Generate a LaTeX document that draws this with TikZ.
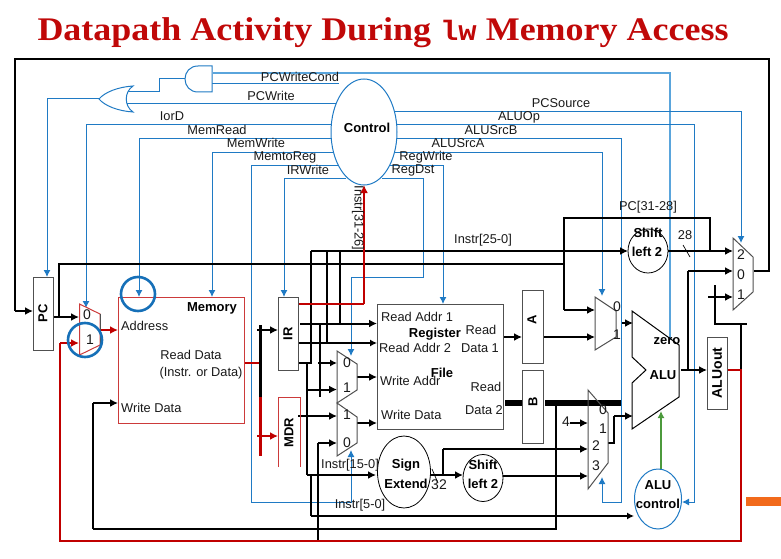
\documentclass[tikz,border=0pt]{standalone}
\usepackage{fontspec}
\setmainfont{Liberation Sans}
\newfontfamily\titleserif{Liberation Serif}
\newfontfamily\titlemono{Liberation Mono}
\usetikzlibrary{arrows.meta,shapes.geometric}
\definecolor{ctlblue}{HTML}{1F7AC4}
\definecolor{paleblue}{HTML}{5AA5DC}
\definecolor{ringblue}{HTML}{1670B8}
\definecolor{wirered}{HTML}{C00000}
\definecolor{boxred}{HTML}{CC3A3A}
\definecolor{titlered}{HTML}{C00808}
\definecolor{alugreen}{HTML}{4C9A3C}
\definecolor{flagorange}{HTML}{F26A1B}
\definecolor{boxgray}{HTML}{505050}
\tikzset{
  lab/.style={font=\fontsize{12.8}{14}\selectfont,inner sep=0pt,text=black!90},
  blab/.style={font=\fontsize{13}{14}\selectfont\bfseries,inner sep=0pt},
  numlab/.style={font=\fontsize{14}{16}\selectfont,inner sep=0pt,text=black!90},
  ctl/.style={draw=ctlblue,line width=1pt},
  ctlto/.style={ctl,-{Latex[length=7pt,width=7pt]}},
  pale/.style={draw=paleblue,line width=1.1pt},
  bus/.style={draw=black,line width=2pt},
  busto/.style={bus,-{Latex[length=8pt,width=8pt]}},
  thinbus/.style={draw=black,line width=1.3pt},
  thinto/.style={thinbus,-{Latex[length=7pt,width=7pt]}},
  hot/.style={draw=wirered,line width=2pt},
  hotto/.style={hot,-{Latex[length=8pt,width=8pt]}},
  unit/.style={draw=boxgray,line width=1pt,fill=white,inner sep=0pt},
  oval/.style={draw=black,line width=.8pt,ellipse,inner sep=0pt},
  ring/.style={draw=ringblue,line width=2.6pt},
  muxedge/.style={draw=boxgray,line width=1pt},
  rot/.style={rotate=90,font=\fontsize{13}{14}\selectfont\bfseries,inner sep=0pt},
}
\begin{document}
\begin{tikzpicture}[x=1pt,y=-1pt]
\useasboundingbox (0,0) rectangle (781,559);

% Port and bend points of the wires
\foreach \n/\x/\y in {
 loopA/754/271,loopB/769/271,loopC/769/59,loopD/15/59,loopE/15/311,pcin/33/311,
 pcout/53/317,m1in0/79/317,tapA/59/317,tapB/59/264,tapC/564/264,tapD/564/310,mAin0/595/310,
 tapE/564/218,tapF/710/218,tapG/710/251,
 irj/311/251,irk/327/251,irl/340/251,shin/628/251,shout/668/251,mTin2/733/251,
 tick1/683/245,tick2/690/257,
 m1out/100/330,memaddr/118/330,m1in1/79/343,
 redA/60/343,redB/60/541,redC/741/541,redD/741/370,aluoutR/727/370,
 blkA/741/324,blkB/715/324,blkC/747/324,blkD/715/285,plusL/708/297,mTin1/733/297,
 wdin/118/403,wdA/93/403,wdB/93/529,wdC/556/529,wdD/556/403,
 rdout/244/363,rdbus/260/363,busT/260/325,busM/260/397,busB/260/456,
 irinL/257/330,irin/278/330,mdrL/257/436,mdrin/278/436,
 irred/298/304,irredB/364/304,ctlbot/364/185,
 irbot/298/363,irbotA/311/363,v1/307/363,v2/307/475,seIn/376/475,
 v3/311/475,v4/311/516,acin/634/516,
 irr1/300/323.5,ra1/377/323.5,irr2/298/343,ra2/377/343,k343/327/343,l323/340/323.5,
 d1/320/323.5,d2/320/397,
 wa0L/318/363,wa0/337/363,wa1L/307/389.5,wa1/337/389.5,
 wd1L/298/416,wd1/337/416,wd0/337/443,wd0A/318/443,wd0B/318/541,
 waOut/357/377,waIn/377/377,wdOut/357/423,wdIn/377/423,
 r1/503/337,ain/522/337,aout/543/337,mAin1/595/337,
 bL/505/403,bR/522/403,bO/545/403,bE/621/403,
 fourL/570/423,m3in1/588/423,
 m3out/608/443,m3A/614/443,m3B/614/416,aluB/633/416,
 mAout/622/323,aluA/633/323,
 aluout/681/370,aluoutL/707/370,fbA/688/370,fbB/688/271,mTin0/733/271,
 sOut/430/475,s2in/463/475,sUp/443/475,sUpB/443/449,m3in2/588/449,
 s2out/503/476,m3in3/588/476,tick3/432/469,tick4/438/483,
 actop/661/469,aluctl/661/411,
 c1A/339/84,c1B/212/84,c2A/213/73,c2B/670/73,c2C/670/340,
 andout/185/79,a1/159/79,a2/159/92,a3/127/92,
 orin/125/104,pcw/336/104,orout/99/99,o1/47/99,pctop/47/277,
 iod/331/125,iodA/86/125,m1sel/86/308,
 mr/331/138,mrA/139/138,memrd/139/297,
 mw/333/152,mwA/212/152,memwr/212/297,
 m2r/338/165,m2rA/251/165,m2rB/251/502,m2rC/351/502,wd0sel/351/450,
 irw/346/178,irwA/284/178,irtop/284/297,
 pcs/395/112,pcsA/741/112,mTtop/741/243,
 aop/397/125,aopA/694/125,aopB/694/502,acR/682/502,
 asb/397/138,asbA/621/138,asbB/621/502,asbC/602/502,m3sel/602/477,
 asa/395/152,asaA/602/152,mAsel/602/296,
 rw/390/165,rwA/443/165,rftop/443/304,
 rd/382/178,rdA/423/178,rdB/423/277,rdC/351/277,wasel/351/356%
}{\coordinate (\n) at (\x,\y);}

% Title
\node[font=\fontsize{33}{36}\selectfont\bfseries\titleserif,text=titlered,inner sep=0pt,xscale=1.09] (title) at (383,33)
  {Datapath Activity During {\titlemono\fontsize{28}{32}\selectfont lw} Memory Access};

% Control lines
\draw[ctl] (c1A) -- (c1B);
\draw[pale] (c2A) -- (c2B) -- (c2C);
\draw[ctl] (andout) -- (a1) -- (a2) -- (a3);
\draw[ctl] (orin) -- (pcw);
\draw[ctlto] (orout) -- (o1) -- (pctop);
\draw[ctlto] (iod) -- (iodA) -- (m1sel);
\draw[ctlto] (mr) -- (mrA) -- (memrd);
\draw[ctlto] (mw) -- (mwA) -- (memwr);
\draw[ctlto] (m2r) -- (m2rA) -- (m2rB) -- (m2rC) -- (wd0sel);
\draw[ctlto] (irw) -- (irwA) -- (irtop);
\draw[ctlto] (pcs) -- (pcsA) -- (mTtop);
\draw[ctlto] (aop) -- (aopA) -- (aopB) -- (acR);
\draw[ctlto] (asb) -- (asbA) -- (asbB) -- (asbC) -- (m3sel);
\draw[ctlto] (asa) -- (asaA) -- (mAsel);
\draw[ctlto] (rw) -- (rwA) -- (rftop);
\draw[ctlto] (rd) -- (rdA) -- (rdB) -- (rdC) -- (wasel);

% AND and OR gates
\draw[ctl,fill=white] (212,66) -- (198,66) .. controls (190,66) and (185,72) .. (185,79)
  .. controls (185,86) and (190,92) .. (198,92) -- (212,92) -- cycle;
\draw[ctl,fill=white] (133,86) .. controls (118,87) and (105,92) .. (99,99)
  .. controls (105,106) and (118,111) .. (133,112) .. controls (124,106) and (124,92) .. (133,86) -- cycle;

% Instruction register wiring
\draw[bus] (loopA) -- (loopB) -- (loopC) -- (loopD) -- (loopE);
\draw[busto] (loopE) -- (pcin);
\draw[busto] (pcout) -- (m1in0);
\draw[bus] (tapA) -- (tapB) -- (tapC) -- (tapD);
\draw[busto] (tapD) -- (mAin0);
\draw[bus] (tapC) -- (tapE) -- (tapF) -- (tapG);
\draw[busto] (irj) -- (shin);
\draw[busto] (shout) -- (mTin2);
\draw[thinbus,line width=.7pt] (tick1) -- (tick2);
\draw[bus] (irj) -- (irbotA) -- (irbot);
\draw[bus] (irk) -- (k343);
\draw[bus] (irl) -- (l323);
\draw[bus] (v1) -- (v2);
\draw[busto] (v2) -- (seIn);
\draw[thinbus] (v3) -- (v4);
\draw[thinto] (v4) -- (acin);
\draw[busto] (irr1) -- (ra1);
\draw[thinto] (irr2) -- (ra2);
\draw[bus] (d1) -- (d2);
\draw[thinto] (wa0L) -- (wa0);
\draw[busto] (wa1L) -- (wa1);
\draw[busto] (wd1L) -- (wd1);
\draw[bus] (wd0B) -- (wd0A);
\draw[busto] (wd0A) -- (wd0);
\draw[busto] (waOut) -- (waIn);
\draw[busto] (wdOut) -- (wdIn);
\draw[busto] (r1) -- (ain);
\draw[busto] (aout) -- (mAin1);
\draw[bus] (wdB) -- (wdA);
\draw[busto] (wdA) -- (wdin);
\draw[bus] (wdB) -- (wdC) -- (wdD);
\draw[line width=6pt,draw=black] (bL) -- (bR);
\draw[line width=6pt,draw=black] (bO) -- (bE);
\draw[busto] (fourL) -- (m3in1);
\draw[bus] (m3out) -- (m3A) -- (m3B);
\draw[busto] (m3B) -- (aluB);
\draw[busto] (mAout) -- (aluA);
\draw[busto] (aluout) -- (aluoutL);
\draw[bus] (fbA) -- (fbB);
\draw[busto] (fbB) -- (mTin0);
\draw[bus] (redD) -- (blkA) -- (blkB) -- (blkD);
\draw[bus] (blkA) -- (blkC);
\draw[busto] (plusL) -- (mTin1);
\draw[busto] (sOut) -- (s2in);
\draw[bus] (sUp) -- (sUpB);
\draw[busto] (sUpB) -- (m3in2);
\draw[busto] (s2out) -- (m3in3);
\draw[thinbus,line width=.7pt] (tick3) -- (tick4);
\draw[alugreen,line width=1.3pt,-{Latex[length=7pt,width=7pt]}] (actop) -- (aluctl);

% Active memory-access path
\draw[hot] (rdout) -- (rdbus);
\draw[bus,line width=3pt] (busT) -- (busM);
\draw[hot,line width=3pt] (busM) -- (busB);
\draw[busto] (irinL) -- (irin);
\draw[hotto] (mdrL) -- (mdrin);
\draw[hot] (irred) -- (irredB);
\draw[hotto] (irredB) -- (ctlbot);
\draw[hotto] (m1out) -- (memaddr);
\draw[hot] (aluoutR) -- (redD) -- (redC) -- (redB) -- (redA);
\draw[hotto] (redA) -- (m1in1);

% Registers and functional units
\node[unit,minimum width=20pt,minimum height=73pt] (pc) at (43,313.5) {};
\node[rot] (pclab) at (pc) {PC};
\node[draw=boxred,line width=1pt,minimum width=126pt,minimum height=126pt,inner sep=0pt] (mem) at (181,360) {};
\node[unit,minimum width=20pt,minimum height=73pt] (ir) at (288,333.5) {};
\node[rot] (irlab) at (ir) {IR};
\draw[draw=boxred,line width=1pt] (278,467) -- (278,397) -- (300,397) -- (300,467);
\node[rot] (mdrlab) at (289,433) {MDR};
\node[unit,fill=none,minimum width=126pt,minimum height=125pt] (rf) at (440,366.5) {};
\node[unit,minimum width=21pt,minimum height=73pt] (rega) at (532.5,326.5) {};
\node[rot] (alab) at (532,320) {A};
\node[unit,fill=none,minimum width=21pt,minimum height=73pt] (regb) at (532.5,406.5) {};
\node[rot] (blab) at (533,402) {B};
\node[unit,minimum width=20pt,minimum height=72pt] (aluoutbox) at (717,373) {};
\node[rot,font=\fontsize{14}{15}\selectfont\bfseries] (aluoutlab) at (aluoutbox) {ALUout};

% Multiplexers
\draw[draw=boxred,line width=1pt,fill=white] (79.5,304) -- (100,314) -- (100,345) -- (79.5,355) -- cycle;
\draw[muxedge] (100,314) -- (100,345);
\draw[muxedge] (337,351) -- (357,364) -- (357,390) -- (337,403) -- cycle;
\draw[muxedge] (337,403) -- (357,417) -- (357,443) -- (337,456) -- cycle;
\draw[muxedge] (595,297) -- (616,311) -- (616,337) -- (595,350) -- cycle;
\draw[muxedge] (588,390) -- (608,413) -- (608,463) -- (588,489) -- cycle;
\draw[muxedge] (733,238) -- (753,257) -- (753,292) -- (733,310) -- cycle;
\draw[line width=1pt,draw=black] (632,311) -- (679,345) -- (679,397) -- (632,429) -- (632,383) -- (646,370) -- (632,357) -- cycle;

% Ovals
\node[draw=ctlblue,line width=1pt,ellipse,minimum width=66pt,minimum height=106pt,inner sep=0pt] (control) at (364,132) {};
\node[oval,minimum width=40pt,minimum height=44pt] (shiftj) at (648,251) {};
\node[oval,minimum width=53pt,minimum height=72pt] (signext) at (404,472) {};
\node[oval,minimum width=40pt,minimum height=47pt] (shiftb) at (483,478) {};
\node[draw=ctlblue,line width=1pt,ellipse,minimum width=47pt,minimum height=60pt,inner sep=0pt] (aluctlov) at (658,499) {};

% Highlight rings and the corner bar
\node[ring,circle,minimum size=34pt,inner sep=0pt] (ringa) at (138,294) {};
\node[ring,circle,minimum size=34pt,inner sep=0pt] (ringb) at (85,340) {};
\fill[flagorange] (746,497) rectangle (781,506);

% Signal names
\node[lab] (tPCWC) at (300,77) {PCWriteCond};
\node[lab] (tPCW) at (271,96) {PCWrite};
\node[lab] (tIorD) at (172,116) {IorD};
\node[lab] (tMR) at (217,130) {MemRead};
\node[lab] (tMW) at (256,143) {MemWrite};
\node[lab] (tM2R) at (285,157) {MemtoReg};
\node[lab] (tIRW) at (308,170) {IRWrite};
\node[lab] (tPCS) at (561,103) {PCSource};
\node[lab] (tOp) at (519,117) {ALUOp};
\node[lab] (tSB) at (491,130) {ALUSrcB};
\node[lab] (tSA) at (458,143) {ALUSrcA};
\node[lab] (tRW) at (426,157) {RegWrite};
\node[lab] (tRD) at (413,170) {RegDst};
\node[blab] (tCtl) at (367,128) {Control};
\node[lab,rotate=-90] (tI31) at (358,218) {Instr[31-26]};
\node[lab] (tI25) at (483,240) {Instr[25-0]};
\node[lab] (tPC31) at (648,207) {PC[31-28]};
\node[lab] (t28) at (685,235) {28};
\node[lab] (tI15) at (350,465) {Instr[15-0]};
\node[lab] (tI5) at (360,505) {Instr[5-0]};
\node[numlab] (t32) at (439,485) {32};
\node[numlab] (t4) at (566,422) {4};

% Unit texts
\node[blab] (tMem) at (212,308) {Memory};
\node[lab,anchor=west] (tAddr) at (121,326) {Address};
\node[lab] (tRdD) at (191,355) {Read Data};
\node[lab] (tRdI) at (201,373) {(Instr. or Data)};
\node[lab,anchor=west] (tWrD) at (121,408) {Write Data};
\node[lab,anchor=west] (tRA1) at (381,317) {Read Addr 1};
\node[blab] (tReg) at (435,334) {Register};
\node[lab,anchor=west] (tRA2) at (379,348) {Read Addr 2};
\node[lab,anchor=west] (tWA) at (380,381) {Write Addr};
\node[blab] (tFile) at (442,373) {File};
\node[lab,anchor=west] (tWD) at (381,415) {Write Data};
\node[lab] (tR1) at (481,330) {Read};
\node[lab] (tD1) at (480,348) {Data 1};
\node[lab] (tR2) at (486,387) {Read};
\node[lab] (tD2) at (484,410) {Data 2};
\node[blab] (tzero) at (667,341) {zero};
\node[blab] (tALU) at (663,375) {ALU};
\node[blab] (tAc1) at (658,485) {ALU};
\node[blab] (tAc2) at (658,504) {control};
\node[blab] (tSh1) at (648,233) {Shift};
\node[blab] (tSh2) at (647,252) {left 2};
\node[blab] (tSg1) at (406,465) {Sign};
\node[blab] (tSg2) at (406,484) {Extend};
\node[blab] (tSb1) at (483,465) {Shift};
\node[blab] (tSb2) at (483,484) {left 2};

% Multiplexer input numbers
\foreach \n/\x/\y/\d in {
 ma0/87/315/0,ma1/90/340/1,wa0t/347/363/0,wa1t/347/388/1,wd1t/347/415/1,wd0t/347/443/0,
 al0/617/307/0,al1/617/335/1,bs0/603/410/0,bs1/603/429/1,bs2/596/446/2,bs3/596/466/3,
 pt2/741/255/2,pt0/741/275/0,pt1/741/295/1%
}{\node[numlab] (\n) at (\x,\y) {\d};}
\end{tikzpicture}
\end{document}
